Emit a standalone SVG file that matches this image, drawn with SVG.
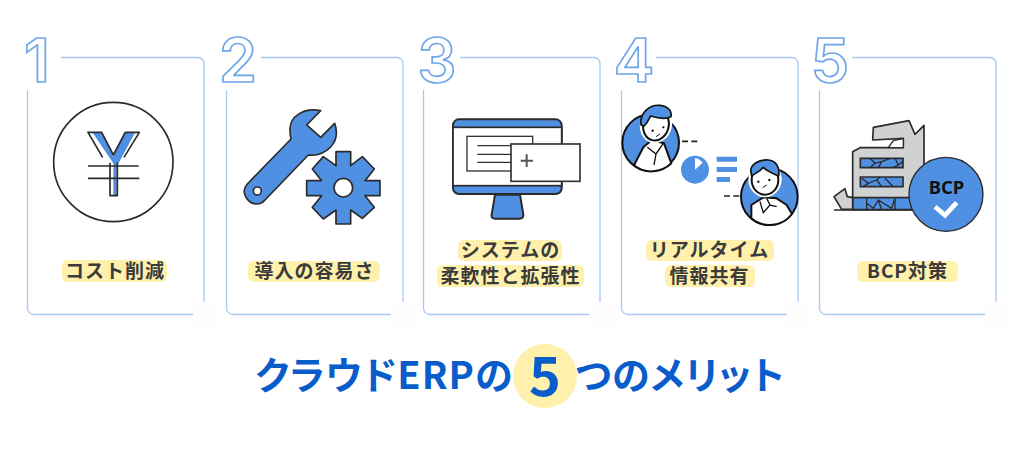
<svg xmlns="http://www.w3.org/2000/svg" width="1024" height="449" viewBox="0 0 1024 449">
<style>
.card{fill:none;stroke:#a9c9f3;stroke-width:1.3}
.mask{fill:#fdfdfd}
.num{font-family:"Inter","DejaVu Sans",sans-serif;font-size:61px;font-weight:600;fill:#fff;stroke:#6fa6e8;stroke-width:1.7;text-anchor:middle}
.hl{fill:#fff1ac}
.lb{font-family:"Noto Sans CJK JP",sans-serif;font-size:19px;font-weight:700;fill:#3b3b3b;letter-spacing:1px;text-anchor:middle}
.tt{font-family:"Noto Sans CJK JP",sans-serif;font-size:38px;font-weight:700;fill:#0a5ccb;font-feature-settings:"palt";letter-spacing:1px}
.ink{stroke:#2b2b2b;stroke-linejoin:round}
.bl{fill:#5090e3}
.wh{fill:#fff}
</style>
<rect width="1024" height="449" fill="#fff"/>
<g id="node-1">
<path class="card" d="M61,57.500H198a6,6 0 0 1 6,6V302M193,314.500H34a6.500,6.500 0 0 1 -6.500,-6.500V90"/>
<rect class="mask" x="193" y="303" width="24" height="23"/>
<text class="num" x="37" y="82">1</text>
<g transform="translate(0,20) scale(.33333)">
<circle cx="340" cy="426" r="179" fill="#fff" stroke="#2b2b2b" stroke-width="5"/>
<path class="bl" d="M278,338H306L340,410L372,338H405L350,440V525H340V430Z"/>
<path fill="none" stroke="#2b2b2b" stroke-width="5" stroke-linejoin="round" d="M308,412L264,337H305L340,405L376,337H418L372,412M330,428V527H352V428"/>
<path fill="none" stroke="#2b2b2b" stroke-width="5" d="M264,438H416M264,475H418"/>
</g>
<rect class="hl" x="62" y="260" width="105" height="22" rx="6"/>
<text class="lb" x="115" y="278">コスト削減</text>
</g>
<g id="node-2">
<path class="card" d="M261,57.500H397a6,6 0 0 1 6,6V302M391,314.500H233a6.500,6.500 0 0 1 -6.500,-6.500V90"/>
<rect class="mask" x="391" y="303" width="24" height="23"/>
<text class="num" x="238" y="82">2</text>
<g transform="translate(210,20) scale(.33333)">
<path class="bl ink" stroke-width="5" d="M332,272C280,262 238,290 240,330Q240,345 243,357L112,492C90,515 112,552 140,552Q155,552 165,540L295,405C345,410 395,370 374,310L332,352L290,315Z"/>
<circle class="wh ink" cx="142" cy="513" r="12" stroke-width="5"/>
<path class="bl ink" stroke-width="5" d="M378,395H422V437L457,410L493,447L465,482H510V527H465L493,562L457,595L422,570V612H378V570L340,597L307,562L335,527H290V482H335L307,447L340,410L378,437Z"/>
<circle class="wh ink" cx="400" cy="503" r="28" stroke-width="5"/>
</g>
<rect class="hl" x="248" y="261" width="132" height="21" rx="6"/>
<text class="lb" x="314.500" y="278">導入の容易さ</text>
</g>
<g id="node-3">
<path class="card" d="M460,57.500H594a6,6 0 0 1 6,6V302M589,314.500H430a6.500,6.500 0 0 1 -6.500,-6.500V90"/>
<rect class="mask" x="589" y="303" width="24" height="23"/>
<text class="num" x="437" y="82">3</text>
<g transform="translate(410,20) scale(.33333)">
<rect class="bl" x="129" y="298" width="326" height="224" rx="18" stroke="#2b2b2b" stroke-width="6"/>
<rect class="wh" x="129" y="322" width="326" height="175" stroke="#2b2b2b" stroke-width="5"/>
<path class="bl ink" stroke-width="6" d="M255,524H330L340,584Q341,596 329,596H255Q243,596 245,584Z"/>
<rect class="wh" x="171" y="349" width="197" height="104" stroke="#333" stroke-width="4"/>
<path fill="none" stroke="#333" stroke-width="4" d="M202,377H305M202,403H305M202,427H305"/>
<rect class="wh" x="303" y="372" width="207" height="112" stroke="#333" stroke-width="5"/>
<path fill="none" stroke="#555" stroke-width="6" d="M332,422H369M350,403V441"/>
</g>
<rect class="hl" x="458" y="240" width="104" height="21" rx="6"/>
<rect class="hl" x="437" y="265" width="147" height="22" rx="6"/>
<text class="lb" x="510.500" y="257">システムの</text>
<text class="lb" x="510.500" y="283">柔軟性と拡張性</text>
</g>
<g id="node-4">
<path class="card" d="M656,57.500H792a6,6 0 0 1 6,6V302M787,314.500H628a6.500,6.500 0 0 1 -6.500,-6.500V90"/>
<rect class="mask" x="787" y="303" width="24" height="23"/>
<text class="num" x="634" y="82">4</text>
<g transform="translate(610,90) scale(.33333)">
<circle class="bl" cx="122" cy="158" r="85" stroke="#111" stroke-width="6"/>
<path class="wh" stroke="#111" stroke-width="6" stroke-linejoin="round" d="M72,226L100,172L125,150L162,160L184,220A85,85 0 0 1 72,226Z"/>
<path fill="none" stroke="#111" stroke-width="4" d="M112,172L138,192L160,160M138,192L132,225"/>
<ellipse cx="138" cy="104" rx="48" ry="56" transform="rotate(15 138 104)" fill="#fff"/>
<ellipse class="wh" cx="138" cy="106" rx="38" ry="46" transform="rotate(15 138 106)" stroke="#111" stroke-width="6"/>
<path class="bl" stroke="#111" stroke-width="5" stroke-linejoin="round" d="M93,105C88,70 118,43 150,46C172,48 187,62 183,80C165,90 135,82 122,78C115,90 110,102 102,108Z"/>
<circle cx="128" cy="122" r="3.500" fill="#111"/><circle cx="160" cy="112" r="3.500" fill="#111"/>
<path fill="none" stroke="#111" stroke-width="3" d="M150,132L138,140"/>
<circle class="bl" cx="478" cy="320" r="85" stroke="#111" stroke-width="6"/>
<path class="wh" stroke="#111" stroke-width="6" stroke-linejoin="round" d="M424,385V345L460,322L500,325L530,345L546,372A85,85 0 0 1 424,385Z"/>
<path fill="none" stroke="#111" stroke-width="4" d="M450,335L460,368L480,345L500,350M480,345L470,325"/>
<ellipse cx="465" cy="268" rx="50" ry="54" fill="#fff"/>
<ellipse class="wh" cx="465" cy="270" rx="40" ry="44" stroke="#111" stroke-width="6"/>
<path class="bl" stroke="#111" stroke-width="5" stroke-linejoin="round" d="M422,240C425,220 450,208 475,210C497,212 510,230 506,258C490,250 470,245 460,232C450,245 435,250 425,258Z"/>
<circle cx="445" cy="275" r="3.500" fill="#111"/><circle cx="478" cy="270" r="3.500" fill="#111"/>
<path fill="none" stroke="#111" stroke-width="3" d="M470,285L458,293"/>
<path fill="none" stroke="#222" stroke-width="5" d="M216,154H234M244,154H262M342,318H360M370,318H388"/>
<circle class="bl" cx="255" cy="239" r="42"/>
<path class="wh" d="M255,239V204A36,36 0 0 1 278,218Z"/>
<path class="bl" d="M320,200H381V215H320ZM320,231H381V246H320ZM320,261H360V276H320Z"/>
</g>
<rect class="hl" x="646" y="240" width="128" height="21" rx="6"/>
<rect class="hl" x="665" y="265" width="90" height="22" rx="6"/>
<text class="lb" x="709.500" y="257">リアルタイム</text>
<text class="lb" x="709.500" y="283">情報共有</text>
</g>
<g id="node-5">
<path class="card" d="M852,57.500H990a6,6 0 0 1 6,6V302M985,314.500H826a6.500,6.500 0 0 1 -6.500,-6.500V90"/>
<rect class="mask" x="985" y="303" width="24" height="23"/>
<text class="num" x="830" y="82">5</text>
<g transform="translate(810,100) scale(.33333)">
<path fill="#cfd1d3" stroke="#2b2b2b" stroke-width="5" stroke-linejoin="round" d="M190,82L297,62L315,103L342,76V250L300,300V295H128V155L150,143H280V115L188,120Z"/>
<path fill="#fff" stroke="#2b2b2b" stroke-width="4" stroke-linejoin="round" d="M235,143L250,122L280,116V143Z"/>
<path class="bl" stroke="#2b2b2b" stroke-width="5" d="M151,175H279V203H151ZM151,231H279V260H151ZM128,293H305V329H128Z"/>
<path fill="none" stroke="#2b2b2b" stroke-width="4" stroke-linejoin="round" d="M180,175L195,190L180,203M195,190L215,185L240,175M215,185L205,203M255,175L265,195L279,185M265,195L250,203M155,235L175,250L160,260M175,250L200,240L215,260M200,240L210,231M225,235L250,260M170,293V329M170,310L190,325L205,300L245,325L255,295M255,295V329M205,300L215,329"/>
<path fill="#cfd1d3" stroke="#2b2b2b" stroke-width="5" stroke-linejoin="round" d="M72,290L105,266L112,290L128,293V328H95Z"/>
<path fill="none" stroke="#2b2b2b" stroke-width="5" d="M72,330H310"/>
<circle class="bl" cx="408" cy="283" r="111" stroke="#2b2b2b" stroke-width="4"/>
<path fill="none" stroke="#fff" stroke-width="14" d="M375,320L405,346L440,308"/>
</g>
<text x="946.500" y="193.500" font-family="'Noto Sans','Noto Sans CJK JP',sans-serif" font-size="18.500" font-weight="700" fill="#111" text-anchor="middle">BCP</text>
<rect class="hl" x="857" y="261" width="101" height="21" rx="6"/>
<text class="lb" x="907.500" y="278">BCP対策</text>
</g>
<g id="title">
<circle class="hl" cx="545" cy="376" r="32"/>
<text class="tt" x="255" y="389">クラウドERPの</text>
<text x="545" y="396" font-family="'Noto Sans CJK JP',sans-serif" font-size="54" font-weight="700" fill="#0a5ccb" text-anchor="middle">5</text>
<text class="tt" x="575" y="389">つのメリット</text>
</g>
</svg>
